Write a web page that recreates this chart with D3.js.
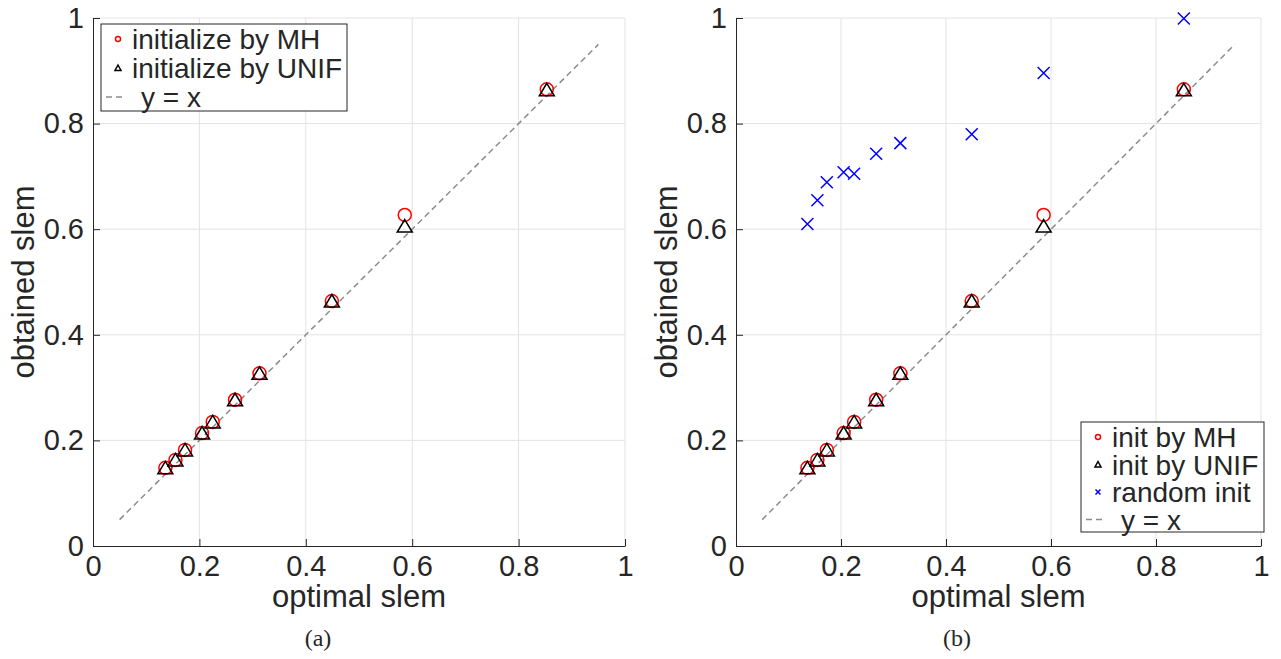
<!DOCTYPE html>
<html>
<head>
<meta charset="utf-8">
<script src="https://cdn.jsdelivr.net/npm/d3@7"></script>
<style>
  body { margin: 0; background: #fff; }
  svg text { font-family: "Liberation Sans", Arial, sans-serif; fill: #262626; }
  .caption { font-family: "Liberation Serif", "Times New Roman", serif; }
</style>
</head>
<body>
<div id="chart"></div>
<script>
// optimal slem (x) for the ten test graphs
const optimalSlem = [0.136, 0.155, 0.173, 0.205, 0.225, 0.267, 0.313, 0.449, 0.586, 0.853];
// obtained slem (y) for each initialisation
const initMH   = [0.148, 0.163, 0.182, 0.214, 0.235, 0.277, 0.327, 0.464, 0.627, 0.865];
const initUNIF = [0.148, 0.163, 0.182, 0.214, 0.235, 0.277, 0.327, 0.464, 0.606, 0.864];
const randomInit = [0.610, 0.655, 0.689, 0.708, 0.705, 0.743, 0.763, 0.780, 0.896, 0.999];
const refLine = [0.05, 0.95];
const tickValues = [0, 0.2, 0.4, 0.6, 0.8, 1];

const width = 1281, height = 659;

const svg = d3.select('#chart')
    .append('svg')
    .attr('width', width)
    .attr('height', height);

function drawPanel(opts) {
    const x = d3.scaleLinear().domain([0, 1]).range([opts.left, opts.right]);
    const y = d3.scaleLinear().domain([0, 1]).range([546, 18]);
    const g = svg.append('g');

    // grid
    g.selectAll('.gx').data(tickValues.slice(1)).enter().append('line')
        .attr('x1', d => x(d)).attr('x2', d => x(d))
        .attr('y1', y(0)).attr('y2', y(1))
        .attr('stroke', '#e3e3e3').attr('stroke-width', 1);
    g.selectAll('.gy').data(tickValues.slice(1)).enter().append('line')
        .attr('x1', x(0)).attr('x2', x(1))
        .attr('y1', d => y(d)).attr('y2', d => y(d))
        .attr('stroke', '#e3e3e3').attr('stroke-width', 1);

    const xAxis = d3.axisBottom(x).tickValues(tickValues).tickFormat(d3.format('')).tickSizeInner(-7).tickSizeOuter(0).tickPadding(9);
    const yAxis = d3.axisLeft(y).tickValues(tickValues).tickFormat(d3.format('')).tickSizeInner(-7).tickSizeOuter(0).tickPadding(9);

    const gx = g.append('g').attr('transform', `translate(0,${y(0)})`).call(xAxis);
    const gy = g.append('g').attr('transform', `translate(${x(0)},0)`).call(yAxis);
    [gx, gy].forEach(a => {
        a.select('.domain').attr('stroke', '#262626');
        a.selectAll('.tick line').attr('stroke', '#262626');
        a.selectAll('text').style('font-size', '29px').attr('fill', '#262626');
    });

    // axis labels
    g.append('text')
        .attr('x', (x(0) + x(1)) / 2)
        .attr('y', 607)
        .attr('text-anchor', 'middle')
        .style('font-size', '31px')
        .text('optimal slem');
    g.append('text')
        .attr('transform', `translate(${x(0) - 59},${(y(0) + y(1)) / 2}) rotate(-90)`)
        .attr('text-anchor', 'middle')
        .style('font-size', '31px')
        .text('obtained slem');

    // y = x reference
    g.append('line')
        .attr('x1', x(refLine[0])).attr('y1', y(refLine[0]))
        .attr('x2', x(refLine[1])).attr('y2', y(refLine[1]))
        .attr('stroke', '#8c8c8c').attr('stroke-width', 1.5)
        .attr('stroke-dasharray', '6,4');

    if (opts.showRandom) {
        g.selectAll('.rx').data(optimalSlem).enter().append('path')
            .attr('transform', (d, i) => `translate(${x(d)},${y(randomInit[i])})`)
            .attr('d', 'M-6,-6L6,6M-6,6L6,-6')
            .attr('stroke', '#0000ff').attr('stroke-width', 1.5).attr('fill', 'none');
    }

    g.selectAll('.mh').data(optimalSlem).enter().append('circle')
        .attr('cx', d => x(d)).attr('cy', (d, i) => y(initMH[i]))
        .attr('r', 6.5)
        .attr('fill', 'none').attr('stroke', '#ff0000').attr('stroke-width', 1.5);

    g.selectAll('.unif').data(optimalSlem).enter().append('path')
        .attr('transform', (d, i) => `translate(${x(d)},${y(initUNIF[i])})`)
        .attr('d', 'M0,-6.5L7.5,6L-7.5,6Z')
        .attr('fill', 'none').attr('stroke', '#000').attr('stroke-width', 1.5);

    // legend
    const lg = g.append('g');
    const L = opts.legend;
    lg.append('rect')
        .attr('x', L.x).attr('y', L.y).attr('width', L.w).attr('height', L.h)
        .attr('fill', '#fff').attr('stroke', '#262626').attr('stroke-width', 1);
    L.items.forEach((item, i) => {
        const cy = L.y + 15 + i * L.step;
        const mx = L.x + 17;
        if (item.type === 'circle') {
            lg.append('circle').attr('cx', mx).attr('cy', cy).attr('r', 2.5)
                .attr('fill', 'none').attr('stroke', '#ff0000').attr('stroke-width', 1.5);
        } else if (item.type === 'tri') {
            lg.append('path').attr('transform', `translate(${mx},${cy})`)
                .attr('d', 'M0,-3L3,2.5L-3,2.5Z')
                .attr('fill', 'none').attr('stroke', '#000').attr('stroke-width', 1.5);
        } else if (item.type === 'x') {
            lg.append('path').attr('transform', `translate(${mx},${cy})`)
                .attr('d', 'M-2.5,-2.5L2.5,2.5M-2.5,2.5L2.5,-2.5')
                .attr('stroke', '#0000ff').attr('stroke-width', 1.5);
        } else {
            lg.append('line').attr('x1', L.x + 5).attr('x2', L.x + 24)
                .attr('y1', cy).attr('y2', cy)
                .attr('stroke', '#8c8c8c').attr('stroke-width', 1.5).attr('stroke-dasharray', '6,4');
        }
        lg.append('text')
            .attr('x', item.type === 'line' ? L.x + 40 : L.x + 31)
            .attr('y', cy)
            .attr('dy', '0.36em')
            .style('font-size', '28px')
            .attr('fill', '#000')
            .text(item.label);
    });

    svg.append('text')
        .attr('class', 'caption')
        .attr('x', opts.captionX)
        .attr('y', 646)
        .attr('text-anchor', 'middle')
        .style('font-size', '24px')
        .attr('fill', '#000')
        .text(opts.caption);
}

drawPanel({
    left: 93, right: 625, showRandom: false, caption: '(a)', captionX: 318,
    legend: {
        x: 101, y: 24, w: 246, h: 87, step: 29,
        items: [
            { type: 'circle', label: 'initialize by MH' },
            { type: 'tri', label: 'initialize by UNIF' },
            { type: 'line', label: 'y = x' }
        ]
    }
});

drawPanel({
    left: 736, right: 1261, showRandom: true, caption: '(b)', captionX: 957,
    legend: {
        x: 1081, y: 422, w: 183, h: 110, step: 27.5,
        items: [
            { type: 'circle', label: 'init by MH' },
            { type: 'tri', label: 'init by UNIF' },
            { type: 'x', label: 'random init' },
            { type: 'line', label: 'y = x' }
        ]
    }
});
</script>
</body>
</html>
